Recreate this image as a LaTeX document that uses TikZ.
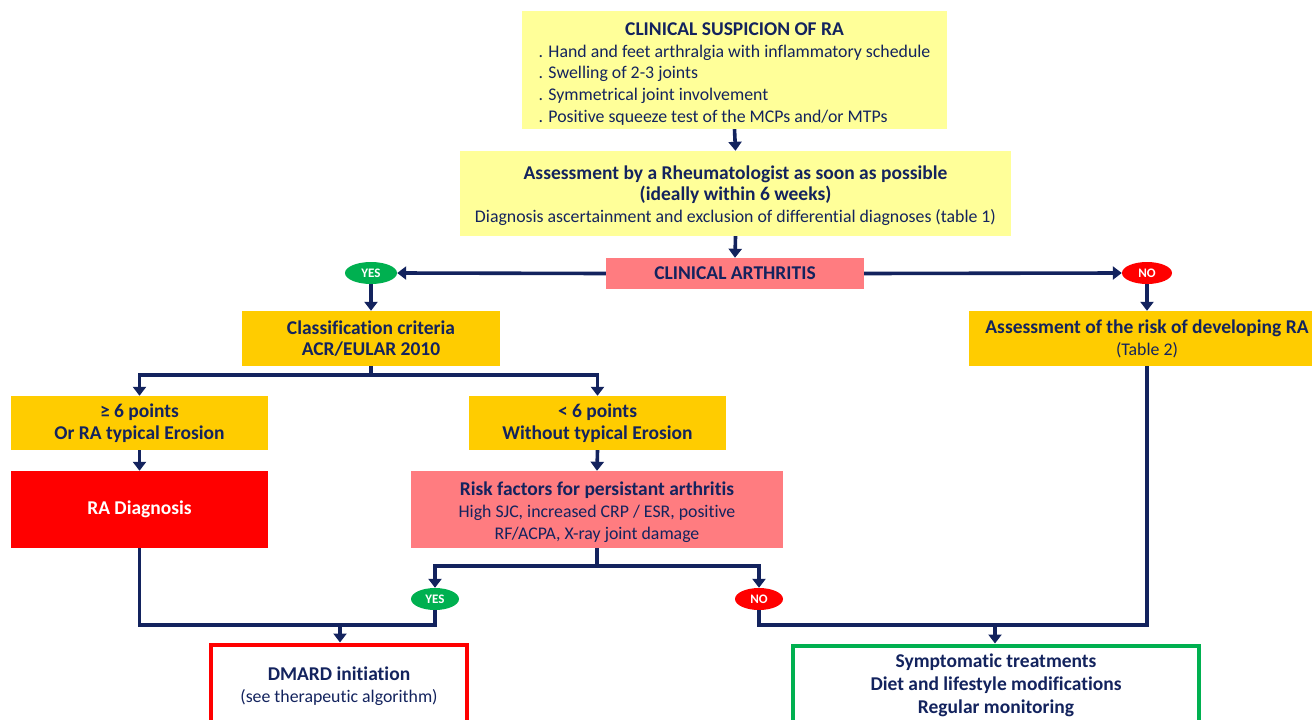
\documentclass[tikz,border=0pt]{standalone}
\usepackage{fontspec}
\setmainfont{Carlito}[Ligatures=NoCommon]
\usetikzlibrary{arrows.meta,shapes.geometric}
\definecolor{navy}{HTML}{13235E}
\definecolor{lyellow}{HTML}{FFFF99}
\definecolor{gold}{HTML}{FFCC00}
\definecolor{salmon}{HTML}{FF7C80}
\definecolor{okgreen}{HTML}{00B050}
\definecolor{bad}{HTML}{FF0000}
\newcommand\bx[1]{{\fontsize{19.5}{21.8}\selectfont\bfseries #1}}
\begin{document}
\begin{tikzpicture}[x=1pt,y=-1pt,
  box/.style={rectangle,inner sep=0pt,align=center,text=navy,font=\fontsize{17.8}{21.8}\selectfont},
  oval/.style={ellipse,inner sep=0pt,text=white,font=\fontsize{13}{14}\selectfont\bfseries},
  link/.style={draw=navy,line width=3.6pt},
  arr/.style={link,-{Triangle[width=13pt,length=9pt]}},
  txt/.style={inner sep=0pt,align=center,text=navy,font=\fontsize{17.8}{21.8}\selectfont}]
\useasboundingbox (0,0) rectangle (1312,720);
\clip (0,0) rectangle (1312,720);
\fill[white] (0,0) rectangle (1312,720);

\node[box,fill=lyellow,minimum width=425pt,minimum height=118pt] (susp) at (734.5,70)
 {\raisebox{-4.5pt}[\height][\depth]{\begin{tabular}{@{}l@{}}\multicolumn{1}{c}{\bx{CLINICAL SUSPICION OF RA}}\\
 . Hand and feet arthralgia with inflammatory schedule\\
 . Swelling of 2-3 joints\\
 . Symmetrical joint involvement\\
 . Positive squeeze test of the MCPs and/or MTPs\end{tabular}}};

\node[box,fill=lyellow,minimum width=551pt,minimum height=85pt] (assess) at (735.5,193.5)
 {\raisebox{-2pt}[\height][\depth]{\parbox{540pt}{\centering\bx{Assessment by a Rheumatologist as soon as possible}\\
  \bx{(ideally within 6 weeks)}\\
  Diagnosis ascertainment and exclusion of differential diagnoses (table 1)}}};

\node[box,fill=salmon,minimum width=258pt,minimum height=31pt] (clin) at (735,273.5) {\bx{CLINICAL ARTHRITIS}};

\node[oval,fill=okgreen,minimum width=52pt,minimum height=22pt] (yes1) at (371,273) {YES};
\node[oval,fill=bad,minimum width=50pt,minimum height=22pt] (no1) at (1147,273) {NO};

\node[box,fill=gold,minimum width=258pt,minimum height=55pt] (class) at (371,338.5)
 {\bx{Classification criteria}\\\bx{ACR/EULAR 2010}};
\node[box,fill=gold,minimum width=356pt,minimum height=55pt] (riskass) at (1147,338.5)
 {\bx{Assessment of the risk of developing RA}\\(Table 2)};

\node[box,fill=gold,minimum width=257pt,minimum height=54pt] (ge6) at (139.5,423)
 {\bx{≥ 6 points}\\\bx{Or RA typical Erosion}};
\node[box,fill=gold,minimum width=257pt,minimum height=54pt] (lt6) at (597.5,423)
 {\bx{< 6 points}\\\bx{Without typical Erosion}};

\node[box,fill=bad,text=white,minimum width=257pt,minimum height=77pt] (radx) at (139.5,509.5) {\bx{RA Diagnosis}};
\node[box,fill=salmon,minimum width=372pt,minimum height=77pt] (riskf) at (597,509.5)
 {\raisebox{-2.5pt}[\height][\depth]{\parbox{360pt}{\centering\bx{Risk factors for persistant arthritis}\\
  High SJC, increased CRP / ESR, positive\\
  RF/ACPA, X-ray joint damage}}};

\node[oval,fill=okgreen,minimum width=48pt,minimum height=22pt] (yes2) at (435,599) {YES};
\node[oval,fill=bad,minimum width=48pt,minimum height=22pt] (no2) at (759,599) {NO};

\node[rectangle,draw=bad,line width=4pt,fill=white,minimum width=256pt,minimum height=117pt,inner sep=0pt] (dmard) at (339,703) {};
\node[txt] (dmardtxt) at (339,686.5)
 {\bx{DMARD initiation}\\(see therapeutic algorithm)};

\node[rectangle,draw=okgreen,line width=4pt,fill=white,minimum width=406pt,minimum height=117pt,inner sep=0pt] (sympt) at (996,704) {};
\node[txt,font=\fontsize{19.5}{23}\selectfont\bfseries] (symtxt) at (996,685)
 {Symptomatic treatments\\Diet and lifestyle modifications\\Regular monitoring};

\coordinate (j1) at (340,625);
\coordinate (j2) at (995,625);

\draw[arr] (susp.south) -- (assess.north);
\draw[arr] (assess.south) -- (clin.north);
\draw[arr] (clin.west) -- (yes1.east);
\draw[arr] (clin.east) -- (no1.west);
\draw[arr] (yes1.south) -- (class.north);
\draw[arr] (no1.south) -- (riskass.north);
\draw[arr] (class.south) -- ++(0,9) -| (ge6.north);
\draw[arr] (class.south) -- ++(0,9) -| (lt6.north);
\draw[arr] (ge6.south) -- (radx.north);
\draw[arr] (lt6.south) -- (riskf.north);
\draw[arr] (riskf.south) -- ++(0,18) -| (yes2.north);
\draw[arr] (riskf.south) -- ++(0,18) -| (no2.north);
\draw[link] (radx.south) |- (j1);
\draw[link] (yes2.south) |- (j1);
\draw[arr] (j1) -- (j1 |- dmard.north);
\draw[link] (no2.south) |- (j2);
\draw[link] (riskass.south) |- (j2);
\draw[arr] (j2) -- (j2 |- sympt.north);
\end{tikzpicture}
\end{document}
